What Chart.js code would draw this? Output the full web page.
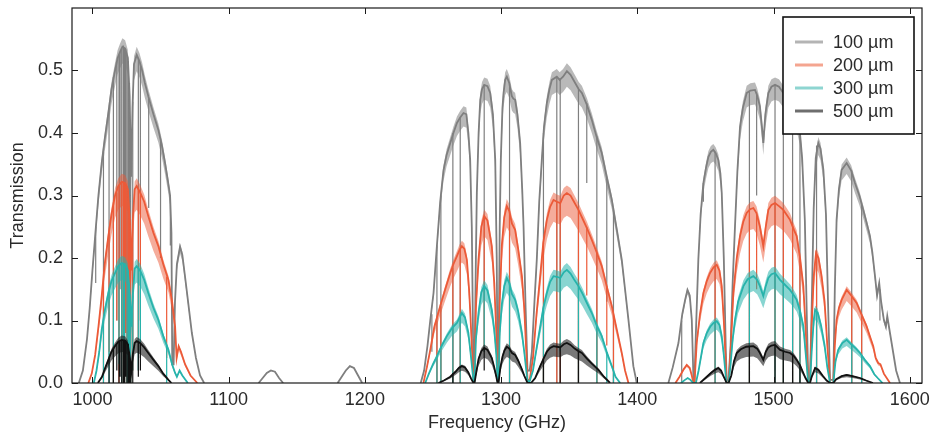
<!DOCTYPE html>
<html>
<head>
<meta charset="utf-8">
<script src="https://cdn.jsdelivr.net/npm/chart.js@4.4.1/dist/chart.umd.min.js"></script>
<style>
  html, body { margin: 0; padding: 0; background: #fff; }
</style>
</head>
<body>
<canvas id="chart" width="946" height="436"></canvas>
<script>
// sample thickness (legend)
const thickness = ['100 µm', '200 µm', '300 µm', '500 µm'];
const freqTicks = [1000, 1100, 1200, 1300, 1400, 1500, 1600];
const transTicks = [0, 0.1, 0.2, 0.3, 0.4, 0.5];

// transmission envelopes, [GHz, T]; null = nothing drawn
const t100 = [
  [990,0],[993,0.02],[996,0.07],[998,0.12],[1000,0.18],[1002,0.235],[1004.4,0.3],[1006.8,0.352],[1009,0.39],[1011.7,0.432],
  [1014,0.47],[1016.6,0.5],[1018.5,0.52],[1020.3,0.53],[1022,0.538],[1024,0.535],[1026,0.52],[1027.3,0.46],[1028.4,0.33],
  [1029.4,0.44],[1030.5,0.51],[1032.5,0.525],[1034.5,0.515],[1036.5,0.5],[1038.5,0.48],[1041,0.459],[1044.8,0.43],[1048.4,0.405],
  [1051,0.38],[1053.3,0.352],[1055.3,0.325],[1057,0.3],[1058,0.24],[1058.6,0.03],[1059.6,0.03],[1060.6,0.13],[1062,0.19],
  [1064.3,0.218],[1066,0.205],[1068,0.17],[1070.5,0.125],[1073,0.08],[1076,0.04],[1079,0.012],[1082,0],[1100,null],
  [1122,0],[1125,0.008],[1128,0.016],[1131,0.02],[1134,0.018],[1137,0.008],[1140,0],[1160,null],
  [1180,0],[1183,0.01],[1186,0.02],[1189,0.027],[1192,0.024],[1195,0.012],[1198,0],[1220,null],
  [1241,0],[1243.5,0.02],[1246,0.06],[1248,0.1],[1250.4,0.144],[1252.9,0.22],[1255.3,0.29],[1257.7,0.34],[1260,0.365],
  [1262.7,0.384],[1265,0.4],[1267.6,0.416],[1270,0.425],[1272.4,0.432],[1274.5,0.43],[1276,0.4],[1277.3,0.357],[1278.5,0.25],[1279.7,0.02],
  [1280.5,0.02],[1281.5,0.2],[1282.2,0.304],[1283.5,0.4],[1284.7,0.453],[1286,0.47],[1287.6,0.477],[1290,0.475],[1292,0.464],
  [1294,0.43],[1295.7,0.357],[1296.8,0.2],[1297.4,0.02],
  [1298.1,0.02],[1299,0.25],[1299.8,0.357],[1301,0.44],[1301.8,0.464],[1303,0.485],[1304.2,0.49],[1306,0.48],[1307.9,0.459],
  [1309,0.455],[1310.3,0.453],[1312,0.43],[1314,0.384],[1315.5,0.31],[1316.5,0.25],[1318,0.12],[1319.4,0.02],
  [1321,0.02],[1322.6,0.05],[1324.5,0.13],[1326.2,0.197],[1328,0.29],[1329.9,0.357],[1331.5,0.41],[1333.6,0.448],[1335.5,0.47],
  [1337.3,0.485],[1340.9,0.49],[1343,0.485],[1345.5,0.49],[1348.3,0.499],[1351,0.493],[1354.4,0.48],[1357,0.47],[1359.3,0.464],
  [1363,0.445],[1366.6,0.421],[1370,0.395],[1373.9,0.368],[1377.5,0.33],[1381.3,0.293],[1385,0.245],[1388.6,0.197],[1391,0.15],
  [1393.5,0.101],[1395.5,0.06],[1397.1,0.027],[1399.6,0],[1410,null],
  [1422.8,0],[1426,0.025],[1430.2,0.064],[1433,0.11],[1435.1,0.133],[1436.8,0.149],[1438.5,0.14],[1440,0.101],[1440.8,0.04],[1441.2,0.005],
  [1442,0.005],[1443,0.08],[1444.8,0.197],[1446.5,0.27],[1448.5,0.32],[1450.5,0.345],[1452.2,0.362],[1454,0.37],[1455.8,0.373],
  [1457.5,0.368],[1459.5,0.357],[1461,0.335],[1462,0.304],[1463.5,0.2],[1465,0.05],[1465.6,0.005],
  [1467,0.005],[1468.5,0.06],[1470,0.16],[1471.7,0.25],[1473.5,0.34],[1475.4,0.41],[1477.5,0.44],[1480.3,0.464],[1483,0.468],
  [1486.4,0.469],[1488,0.46],[1490,0.443],[1491.5,0.41],[1492.5,0.384],
  [1494,0.43],[1496.2,0.464],[1498.5,0.474],[1501.1,0.477],[1504,0.474],[1507.2,0.464],[1510,0.455],[1513,0.445],[1516,0.43],
  [1518,0.415],[1519.4,0.4],[1521,0.36],[1523,0.26],[1524.5,0.1],[1525.5,0.005],
  [1526.8,0.005],[1528,0.12],[1529.5,0.28],[1531,0.36],[1532.9,0.384],[1534.5,0.375],[1536.6,0.341],[1538.5,0.27],[1540,0.13],[1541.5,0.005],
  [1543.9,0.005],[1545,0.15],[1546.3,0.261],[1548,0.31],[1550,0.341],[1553.7,0.352],[1557,0.34],[1559.8,0.32],[1563,0.3],
  [1565.9,0.277],[1568.5,0.255],[1570.8,0.235],[1572.5,0.21],[1574.5,0.171],[1576,0.14],[1577.6,0.16],[1579,0.13],[1581,0.101],
  [1582.5,0.09],[1583.5,0.107],[1585.5,0.08],[1587.9,0.048],[1590,0.02],[1592.8,0]
];
const t200 = [
  [997,0],[999.5,0.015],[1002,0.045],[1004.4,0.09],[1006.8,0.139],[1009,0.19],[1011.7,0.235],[1014,0.27],[1016.6,0.3],[1019,0.315],
  [1021.5,0.322],[1024,0.32],[1026,0.31],[1027.5,0.26],[1028.6,0.18],[1029.6,0.26],[1031,0.31],[1032.5,0.315],[1035,0.305],
  [1038,0.29],[1041,0.267],[1044.8,0.24],[1048.4,0.219],[1052,0.19],[1055.8,0.165],[1058.5,0.13],[1060.7,0.09],[1061.8,0.04],
  [1063.3,0.059],[1065,0.05],[1068,0.03],[1072,0.012],[1077,0],[1100,null],
  [1243,0],[1245.5,0.025],[1248,0.053],[1251,0.09],[1255.3,0.123],[1259,0.15],[1262.7,0.176],[1265,0.19],[1267.6,0.203],
  [1269.5,0.213],[1271.2,0.219],[1273,0.215],[1274.9,0.197],[1276.5,0.15],[1277.3,0.117],[1278.5,0.06],[1279.7,0.005],
  [1280.5,0.005],[1281.5,0.12],[1283.4,0.197],[1285.5,0.25],[1287.6,0.267],[1290,0.26],[1293.2,0.219],[1295,0.16],[1296.5,0.08],[1297.4,0.005],
  [1298.1,0.005],[1299,0.13],[1300.5,0.219],[1302.3,0.265],[1304.2,0.283],[1306,0.275],[1308,0.255],[1310.3,0.245],[1312.5,0.215],
  [1315.3,0.171],[1317,0.12],[1318.5,0.05],[1319.4,0.005],
  [1321,0.005],[1323.4,0.04],[1326,0.11],[1328.7,0.171],[1331,0.225],[1333.6,0.261],[1336,0.282],[1338.5,0.293],[1341,0.29],
  [1343.5,0.288],[1346,0.3],[1348.3,0.304],[1351,0.3],[1353.5,0.29],[1356.8,0.277],[1360,0.262],[1363,0.248],[1366.6,0.229],
  [1370,0.21],[1373.9,0.187],[1377.5,0.155],[1381.3,0.123],[1385,0.085],[1388.6,0.048],[1391,0.02],[1393.5,0],[1410,null],
  [1428,0],[1431,0.01],[1434,0.022],[1436.3,0.029],[1438.5,0.024],[1440,0.012],[1441.2,0],
  [1442,0],[1443.6,0.064],[1446,0.11],[1448.5,0.144],[1451,0.163],[1453.4,0.176],[1456,0.185],[1458.3,0.189],[1460.3,0.18],
  [1462,0.155],[1463.5,0.1],[1465,0.03],[1465.6,0],
  [1467,0],[1468.5,0.05],[1470.5,0.144],[1473,0.2],[1475.4,0.235],[1477.8,0.258],[1480.3,0.272],[1482.8,0.278],[1485.2,0.28],
  [1487.5,0.272],[1490,0.25],[1492.5,0.219],
  [1494.3,0.25],[1496.2,0.277],[1498.5,0.285],[1501.1,0.288],[1504,0.283],[1507.2,0.277],[1510,0.268],[1512.1,0.261],[1515,0.245],
  [1517,0.235],[1519.5,0.2],[1521.9,0.155],[1523.5,0.09],[1525.5,0],
  [1526.8,0],[1528,0.09],[1529.5,0.17],[1531.2,0.208],[1533,0.2],[1535.3,0.171],[1537.5,0.13],[1539.5,0.06],[1541.5,0],
  [1543.9,0],[1545,0.06],[1546.3,0.101],[1548,0.12],[1550,0.133],[1553.7,0.149],[1557,0.14],[1561,0.128],[1564.5,0.11],
  [1568.3,0.091],[1571,0.073],[1573.2,0.059],[1575,0.04],[1576.9,0.032],[1578.5,0.03],[1581,0.015],[1585.5,0]
];
const t300 = [
  [1001,0],[1003,0.02],[1005,0.05],[1006.8,0.085],[1009,0.115],[1011.7,0.144],[1014,0.163],[1016.6,0.176],[1019,0.187],
  [1021.5,0.192],[1024,0.19],[1026,0.18],[1027.5,0.14],[1028.6,0.09],[1029.6,0.14],[1031,0.183],[1032.5,0.187],[1035,0.18],
  [1038,0.165],[1041,0.144],[1044.8,0.12],[1048.4,0.101],[1052,0.075],[1055.8,0.053],[1058.5,0.03],[1060.7,0.016],[1062,0.01],
  [1064,0.02],[1066,0.012],[1070,0],[1100,null],
  [1244.3,0],[1247,0.015],[1250,0.03],[1252.9,0.043],[1256.5,0.06],[1260.2,0.075],[1264,0.088],[1267.6,0.096],[1271.2,0.112],
  [1273.5,0.105],[1276,0.08],[1278,0.04],[1279.7,0.003],
  [1280.5,0.003],[1281.5,0.07],[1283.4,0.112],[1285.5,0.145],[1287.6,0.155],[1290,0.148],[1293.2,0.117],[1295,0.085],[1296.5,0.045],[1297.4,0.003],
  [1298.1,0.003],[1299,0.08],[1300.5,0.125],[1302.3,0.155],[1304.2,0.168],[1306,0.16],[1308,0.142],[1310.3,0.133],[1312.5,0.115],
  [1315.3,0.08],[1317,0.05],[1318.5,0.02],[1319.4,0.003],
  [1321,0.003],[1323.4,0.02],[1326,0.055],[1328.7,0.09],[1331,0.12],[1333.6,0.144],[1336,0.162],[1338.5,0.171],[1341,0.17],
  [1343.5,0.168],[1346,0.177],[1348.3,0.181],[1351,0.175],[1353.5,0.166],[1356.8,0.155],[1360,0.142],[1363,0.128],[1366.6,0.112],
  [1370,0.093],[1373.9,0.075],[1377.5,0.05],[1381.3,0.027],[1384,0.01],[1387.4,0],[1410,null],
  [1432,0],[1435,0.005],[1437,0.008],[1439,0.005],[1441,0],
  [1443,0],[1445,0.02],[1448.5,0.064],[1451,0.08],[1453.5,0.09],[1456,0.096],[1458.3,0.099],[1460.3,0.093],[1462,0.075],
  [1463.5,0.045],[1465,0.01],[1465.6,0],
  [1467,0],[1468.5,0.03],[1470,0.07],[1471.7,0.101],[1474,0.13],[1477.9,0.155],[1481,0.166],[1485.2,0.171],[1488,0.165],
  [1490,0.155],[1492.5,0.139],
  [1494.3,0.155],[1496.2,0.168],[1498.5,0.174],[1501.1,0.176],[1504.8,0.165],[1508,0.158],[1512.1,0.149],[1515,0.14],[1517,0.133],
  [1519.5,0.115],[1521.9,0.091],[1523.5,0.05],[1525.5,0],
  [1526.8,0],[1528,0.05],[1529.5,0.1],[1530.5,0.117],[1532.5,0.112],[1535,0.091],[1537.5,0.06],[1539.5,0.025],[1541.5,0],
  [1543.9,0],[1545.5,0.035],[1547.5,0.053],[1550.5,0.064],[1553.7,0.069],[1557,0.062],[1560.5,0.055],[1563.5,0.048],[1567,0.037],
  [1570.8,0.027],[1574,0.014],[1576.5,0.008],[1580,0]
];
const t500 = [
  [1004,0],[1007,0.01],[1009.5,0.025],[1011.7,0.037],[1014,0.05],[1016.6,0.059],[1019,0.066],[1021.5,0.069],[1024,0.068],
  [1026,0.062],[1027.5,0.04],[1028.6,0.02],[1029.6,0.045],[1031,0.064],[1032.5,0.067],[1035,0.064],[1038,0.057],[1041,0.048],
  [1044.8,0.037],[1048.4,0.027],[1052,0.015],[1055.8,0.005],[1058,0],[1100,null],
  [1254,0],[1258,0.004],[1262.7,0.01],[1266.5,0.018],[1269,0.024],[1271.2,0.027],[1273.5,0.025],[1276,0.017],[1278,0.007],[1279.7,0],
  [1280.5,0],[1282,0.02],[1283.4,0.038],[1285.5,0.051],[1287.6,0.056],[1290,0.053],[1293.2,0.04],[1295,0.025],[1296.5,0.01],[1297.4,0],
  [1298.1,0],[1299.5,0.025],[1301,0.042],[1302.5,0.052],[1304.2,0.058],[1306,0.055],[1308,0.048],[1310.3,0.045],[1312.5,0.036],
  [1315.3,0.022],[1317,0.012],[1319.4,0],
  [1322,0],[1325,0.008],[1328.7,0.027],[1331,0.038],[1333.6,0.05],[1336,0.056],[1338.5,0.059],[1341,0.058],[1343.5,0.057],
  [1346,0.062],[1348.3,0.064],[1351,0.061],[1354,0.055],[1356.8,0.051],[1359.3,0.048],[1363,0.039],[1366.6,0.031],[1371.5,0.021],
  [1375.5,0.01],[1380,0],[1410,null],
  [1446,0],[1450,0.008],[1454,0.016],[1457,0.021],[1459.5,0.024],[1461.5,0.02],[1463.5,0.01],[1465.6,0],
  [1467,0],[1469,0.012],[1471,0.035],[1473,0.048],[1476,0.054],[1480,0.058],[1485.2,0.059],[1488,0.055],[1490,0.048],[1492.5,0.037],
  [1494.3,0.05],[1496.2,0.057],[1498.5,0.06],[1501.1,0.061],[1504.8,0.053],[1508.5,0.05],[1512.1,0.048],[1515,0.043],[1517,0.037],
  [1519.5,0.028],[1521.9,0.016],[1523.5,0.008],[1525.5,0],
  [1526.8,0],[1528,0.01],[1530.5,0.024],[1533,0.021],[1536,0.012],[1539,0.004],[1541.5,0],
  [1543.9,0],[1546,0.006],[1550,0.011],[1553.7,0.013],[1558,0.011],[1563.5,0.008],[1568,0.004],[1573,0]
];

// absorption lines, [GHz, T above, T at line bottom]
const d100 = [
  [1002.4,0.25,0.16],[1008.1,0.37,0.1],[1012.2,0.44,0.03],[1015.4,0.49,0],[1017.9,0.515,0.1],[1019.5,0.525,0.02],
  [1020.3,0.53,0.15],[1021.5,0.535,0],[1022.7,0.54,0.05],[1023.6,0.537,0],[1024.4,0.535,0.1],[1025.4,0.525,0],
  [1026.4,0.515,0],[1027.2,0.48,0],[1028.1,0.4,0],[1029.6,0.45,0.05],[1033.7,0.52,0.02],[1035.2,0.51,0.04],
  [1041.3,0.455,0.28],[1050,0.39,0.2],[1057.2,0.3,0.22],
  [1249.2,0.11,0.05],[1252.9,0.22,0],[1255.8,0.3,0],[1264.6,0.4,0],[1270,0.425,0],[1287.6,0.477,0.05],[1306.2,0.478,0],
  [1331.1,0.4,0],[1340.9,0.49,0],[1343.4,0.485,0],[1356.8,0.47,0],[1362.9,0.448,0.32],[1370.3,0.395,0],[1377.6,0.33,0.13],
  [1382.5,0.28,0],
  [1432.6,0.1,0],[1448.5,0.32,0.29],[1457.1,0.37,0],[1482.3,0.466,0],[1487.6,0.465,0.3],[1501.1,0.477,0.02],[1507.2,0.464,0],
  [1514,0.448,0],[1519.4,0.4,0],[1531.6,0.38,0],[1557.4,0.34,0],[1564.7,0.285,0],[1578.1,0.15,0.1]
];
const d200 = [
  [1008.1,0.16,0],[1012.2,0.24,0.05],[1015.4,0.285,0],[1017.9,0.305,0.1],[1019.5,0.315,0],[1021.5,0.322,0],
  [1022.7,0.322,0.05],[1023.6,0.321,0],[1024.4,0.32,0.08],[1025.4,0.315,0],[1026.4,0.3,0],[1027.2,0.27,0],[1028.1,0.22,0],
  [1029.6,0.26,0.02],[1033.7,0.312,0.05],[1035.2,0.305,0.1],[1054.5,0.17,0.04],
  [1252.9,0.1,0],[1255.8,0.123,0],[1264.6,0.185,0],[1270,0.215,0],[1287.6,0.267,0.05],[1306.2,0.272,0],[1331.1,0.225,0],
  [1340.9,0.29,0],[1343.4,0.288,0],[1356.8,0.277,0],[1362.9,0.25,0.14],[1370.3,0.21,0],[1377.6,0.155,0.06],[1382.5,0.11,0],
  [1457.1,0.187,0],[1482.3,0.276,0],[1487.6,0.27,0.15],[1501.1,0.288,0],[1507.2,0.277,0],[1514,0.255,0],[1519.4,0.2,0],
  [1531.6,0.206,0],[1557.4,0.138,0],[1564.7,0.105,0]
];
const d300 = [
  [1008.1,0.1,0],[1012.2,0.147,0],[1015.4,0.17,0],[1019.5,0.187,0.03],[1021.5,0.192,0],[1022.7,0.192,0.05],[1023.6,0.19,0],
  [1025.4,0.185,0],[1026.4,0.18,0],[1027.2,0.16,0],[1028.1,0.12,0],[1029.6,0.14,0.02],[1033.7,0.186,0.02],[1035.2,0.18,0.05],
  [1054.5,0.06,0],
  [1252.9,0.043,0],[1255.8,0.052,0],[1264.6,0.09,0],[1270,0.105,0],[1287.6,0.155,0.05],[1306.2,0.16,0],[1331.1,0.12,0],
  [1343.4,0.168,0.05],[1356.8,0.155,0],[1370.3,0.093,0],[1377.6,0.05,0],[1382.5,0.02,0],
  [1457.1,0.097,0],[1482.3,0.168,0],[1501.1,0.176,0],[1507.2,0.16,0],[1514,0.145,0],[1519.4,0.115,0],[1531.6,0.115,0],
  [1557.4,0.06,0],[1564.7,0.045,0]
];
const d500 = [
  [1012.2,0.04,0],[1015.4,0.055,0],[1017.9,0.062,0.02],[1019.5,0.066,0],[1020.3,0.067,0.01],[1021.5,0.069,0],[1022.7,0.069,0],
  [1023.6,0.068,0],[1024.4,0.068,0.01],[1025.4,0.065,0],[1026.4,0.062,0],[1027.2,0.05,0],[1028.1,0.03,0],[1029.6,0.045,0],
  [1033.7,0.066,0.01],[1035.2,0.064,0.02],
  [1264.6,0.016,0],[1287.6,0.056,0.02],[1331.1,0.038,0],[1343.4,0.057,0],[1356.8,0.051,0],
  [1482.3,0.058,0],[1501.1,0.061,0],[1507.2,0.05,0],[1514,0.046,0],[1519.4,0.028,0]
];

// relative uncertainty [above, below] of each curve
const spread100 = [0.025, 0.05];
const spread200 = [0.04, 0.12];
const spread300 = [0.06, 0.14];
const spread500 = [0.1, 0.28];

const series = [
  { label: thickness[0], pts: t100, dips: d100, spread: spread100, line: '#7f7f7f', band: 'rgba(128,128,128,0.55)', key: '#b4b4b4' },
  { label: thickness[1], pts: t200, dips: d200, spread: spread200, line: '#ec5a38', band: 'rgba(236,90,56,0.5)', key: '#f4a590' },
  { label: thickness[2], pts: t300, dips: d300, spread: spread300, line: '#27b3ab', band: 'rgba(39,179,171,0.55)', key: '#8ed5d1' },
  { label: thickness[3], pts: t500, dips: d500, spread: spread500, line: '#111111', band: 'rgba(30,30,30,0.6)', key: '#6e6e6e' }
];

const datasets = [];
series.forEach((s, i) => {
  const base = 100 - i * 10;
  const pts = s.pts.map(p => ({ x: p[0], y: p[1] }));
  const scaled = f => pts.map(p => ({ x: p.x, y: p.y === null ? null : p.y * f }));
  datasets.push({ data: scaled(1 + s.spread[0]), borderWidth: 0, pointRadius: 0, backgroundColor: s.band, fill: '+1', order: base });
  datasets.push({ data: scaled(1 - s.spread[1]), borderWidth: 0, pointRadius: 0, fill: false, order: base });
  const dipPts = [];
  s.dips.forEach(d => {
    dipPts.push({ x: d[0], y: d[1] }, { x: d[0], y: d[2] }, { x: d[0], y: null });
  });
  datasets.push({ data: dipPts, borderColor: s.line, borderWidth: 1.2, pointRadius: 0, fill: false, order: base - 1 });
  datasets.push({ data: pts, borderColor: s.line, borderWidth: 1.8, pointRadius: 0, fill: false, order: base - 2 });
});

const textColor = '#2a2a2a';
const fontFamily = '"Liberation Sans", Arial, sans-serif';
const fontSize = 18;

// frame, inward ticks on all four sides and the boxed legend
const frame = {
  id: 'frame',
  afterDraw(chart) {
    const { ctx, chartArea: a, scales: { x, y } } = chart;
    ctx.save();
    ctx.strokeStyle = '#1a1a1a';
    ctx.lineWidth = 1.2;
    ctx.strokeRect(a.left, a.top, a.right - a.left, a.bottom - a.top);
    ctx.lineWidth = 1;
    ctx.beginPath();
    freqTicks.forEach(v => {
      const px = Math.round(x.getPixelForValue(v)) + 0.5;
      ctx.moveTo(px, a.bottom); ctx.lineTo(px, a.bottom - 6);
      ctx.moveTo(px, a.top); ctx.lineTo(px, a.top + 6);
    });
    transTicks.forEach(v => {
      const py = Math.round(y.getPixelForValue(v)) + 0.5;
      ctx.moveTo(a.left, py); ctx.lineTo(a.left + 6, py);
      ctx.moveTo(a.right, py); ctx.lineTo(a.right - 6, py);
    });
    ctx.stroke();

    // legend
    const bx = a.right - 139, by = a.top + 9, bw = 131, bh = 117;
    ctx.fillStyle = '#fff';
    ctx.fillRect(bx, by, bw, bh);
    ctx.strokeStyle = '#111';
    ctx.lineWidth = 1.6;
    ctx.strokeRect(bx, by, bw, bh);
    ctx.font = fontSize + 'px ' + fontFamily;
    ctx.textBaseline = 'middle';
    ctx.textAlign = 'left';
    series.forEach((s, i) => {
      const ry = by + 25 + i * 23;
      ctx.strokeStyle = s.key;
      ctx.lineWidth = 3;
      ctx.beginPath();
      ctx.moveTo(bx + 12, ry); ctx.lineTo(bx + 40, ry);
      ctx.stroke();
      ctx.fillStyle = textColor;
      ctx.fillText(s.label, bx + 50, ry + 1);
    });
    ctx.restore();
  }
};

const noPad = s => { s.paddingTop = 0; s.paddingBottom = 0; s.paddingLeft = 0; s.paddingRight = 0; };

new Chart(document.getElementById('chart'), {
  type: 'line',
  data: { datasets },
  options: {
    responsive: false,
    animation: false,
    events: [],
    devicePixelRatio: 1,
    layout: { padding: { left: 0, top: 8, right: 24, bottom: 0 } },
    elements: { line: { tension: 0 } },
    plugins: { legend: { display: false }, tooltip: { enabled: false } },
    scales: {
      x: {
        type: 'linear',
        min: 985,
        max: 1609,
        grid: { display: false, drawTicks: false },
        border: { display: false },
        afterBuildTicks: s => { s.ticks = freqTicks.map(v => ({ value: v })); },
        afterFit: s => { s.height = 53; noPad(s); },
        ticks: {
          padding: 6, color: textColor, maxRotation: 0, autoSkip: false,
          font: { family: fontFamily, size: fontSize },
          callback: v => String(v)
        },
        title: {
          display: true, text: 'Frequency (GHz)', color: textColor,
          font: { family: fontFamily, size: fontSize }, padding: { top: 0, bottom: 2 }
        }
      },
      y: {
        min: 0,
        max: 0.6,
        grid: { display: false, drawTicks: false },
        border: { display: false },
        afterBuildTicks: s => { s.ticks = transTicks.map(v => ({ value: v })); },
        afterFit: s => { s.width = 72; noPad(s); },
        ticks: {
          padding: 9, color: textColor, autoSkip: false,
          font: { family: fontFamily, size: fontSize },
          callback: v => Number(v).toFixed(1)
        },
        title: {
          display: true, text: 'Transmission', color: textColor,
          font: { family: fontFamily, size: fontSize }, padding: { top: 7, bottom: 0 }
        }
      }
    }
  },
  plugins: [frame]
});
</script>
</body>
</html>
